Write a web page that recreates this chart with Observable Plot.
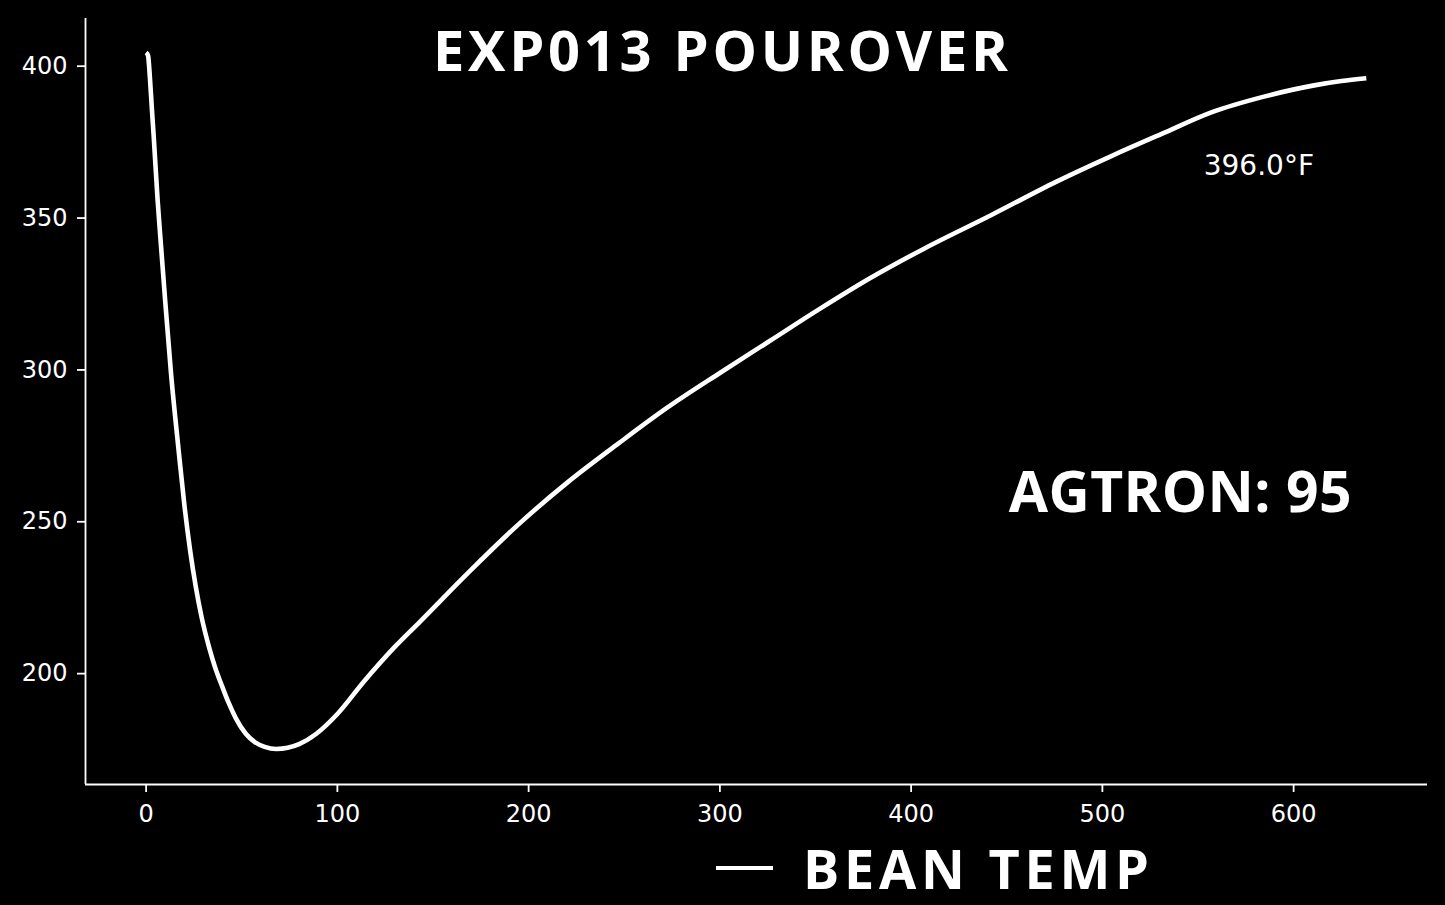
<!DOCTYPE html>
<html>
<head>
<meta charset="utf-8">
<script src="https://cdn.jsdelivr.net/npm/d3@7"></script>
<script src="https://cdn.jsdelivr.net/npm/@observablehq/plot@0.6"></script>
<style>
  html, body { margin: 0; padding: 0; background: #000; }
  #wrap { position: relative; width: 1445px; height: 905px; overflow: hidden; background: #000; }
  #chart { position: absolute; left: 0; top: 0; }
  .hand { position: absolute; font-family: "Open Sans", "Lato", sans-serif; font-weight: 700; color: #fff; white-space: nowrap; line-height: 1; }
</style>
</head>
<body>
<div id="wrap">
  <div id="chart"></div>
  <div id="title" class="hand" style="font-size:56px; left:433px; top:21px;">EXP013 POUROVER</div>
  <div id="legend" class="hand" style="font-size:54px; line-height:0.75; left:716px; top:848px; display:flex; align-items:center;">
    <span style="display:inline-block; width:57px; height:4px; background:#fff; margin-right:30px;"></span><span id="legendText">BEAN TEMP</span>
  </div>
</div>
<script>
// ---- data ----
const titleText = "EXP013 POUROVER";
const seriesName = "BEAN TEMP";
const agtron = 95;
const timeSec = [0, 1, 2, 3, 4, 6, 8, 10, 13, 17, 20, 23, 26, 29, 33, 36, 40, 43, 47, 52,
  57, 62, 68, 74, 80, 89, 100, 114, 130, 143, 169, 195, 221, 247, 273, 300, 326, 352, 378,
  407, 442, 476, 505, 531, 557, 584, 610, 625, 638];
const beanTempF = [404.5, 403.5, 396, 386, 376.5, 356, 339, 322.5, 299, 273.5, 255.5, 240.6, 228.5, 218.6, 208.5, 202.2, 195.4, 190.6, 185.2, 180.3,
  177.4, 175.9, 175.2, 175.6, 176.8, 180.2, 186.7, 197.5, 208.8, 217, 233.6, 249.3, 263.3, 275.8, 287.8, 299, 309.5, 320, 330,
  340, 351, 362, 370.5, 377.7, 384.8, 389.9, 393.6, 395.1, 396.0];
const xTicks = [0, 100, 200, 300, 400, 500, 600];
const yTicks = [200, 250, 300, 350, 400];

// ---- build ----
const data = timeSec.map((t, i) => ({t, temp: beanTempF[i]}));
const xDomain = [-31.7, 670];
const yDomain = [163.5, 415.7];
const finalLabel = `${beanTempF[beanTempF.length - 1].toFixed(1)}°F`;

const chart = Plot.plot({
  width: 1445,
  height: 830,
  marginTop: 18,
  marginBottom: 46,
  marginLeft: 85,
  marginRight: 18,
  style: {background: "#000", color: "#fff", fontFamily: "DejaVu Sans, sans-serif", fontSize: "24px"},
  x: {domain: xDomain},
  y: {domain: yDomain},
  marks: [
    Plot.axisX({ticks: xTicks, tickSize: 8, tickPadding: 12, strokeWidth: 1.8, fontSize: 24, label: null, tickFormat: d => String(d)}),
    Plot.axisY({ticks: yTicks, tickSize: 8, tickPadding: 10, strokeWidth: 1.8, fontSize: 24, label: null, tickFormat: d => String(d)}),
    Plot.ruleX([xDomain[0]], {stroke: "#fff", strokeWidth: 1.8}),
    Plot.ruleY([yDomain[0]], {stroke: "#fff", strokeWidth: 1.8}),
    Plot.line(data, {x: "t", y: "temp", stroke: "#fff", strokeWidth: 4.6, curve: "monotone-x", strokeLinecap: "butt"}),
    Plot.text([finalLabel], {x: 553, y: 367, text: d => d, textAnchor: "start", fill: "#fff", fontSize: 28, fontFamily: "DejaVu Sans, sans-serif"}),
    Plot.text([`AGTRON: ${agtron}`], {x: 540.7, y: 259.2, text: d => d, textAnchor: "middle", fill: "#fff", fontSize: 57, fontWeight: 700, fontFamily: "Open Sans, Lato, sans-serif"})
  ]
});
document.getElementById("chart").append(chart);

// stretch hand-lettered texts to the reference widths
chart.querySelectorAll("text").forEach(el => {
  if (el.textContent.startsWith("AGTRON")) {
    el.setAttribute("textLength", 343);
    el.setAttribute("lengthAdjust", "spacing");
  }
});
function fitWidth(el, target) {
  el.style.letterSpacing = "0px";
  const w = el.getBoundingClientRect().width;
  const n = el.textContent.length;
  el.style.letterSpacing = ((target - w) / (n - 1)) + "px";
}
document.getElementById("title").textContent = titleText;
document.getElementById("legendText").textContent = seriesName;
fitWidth(document.getElementById("title"), 575);
fitWidth(document.getElementById("legendText"), 346);
</script>
</body>
</html>
